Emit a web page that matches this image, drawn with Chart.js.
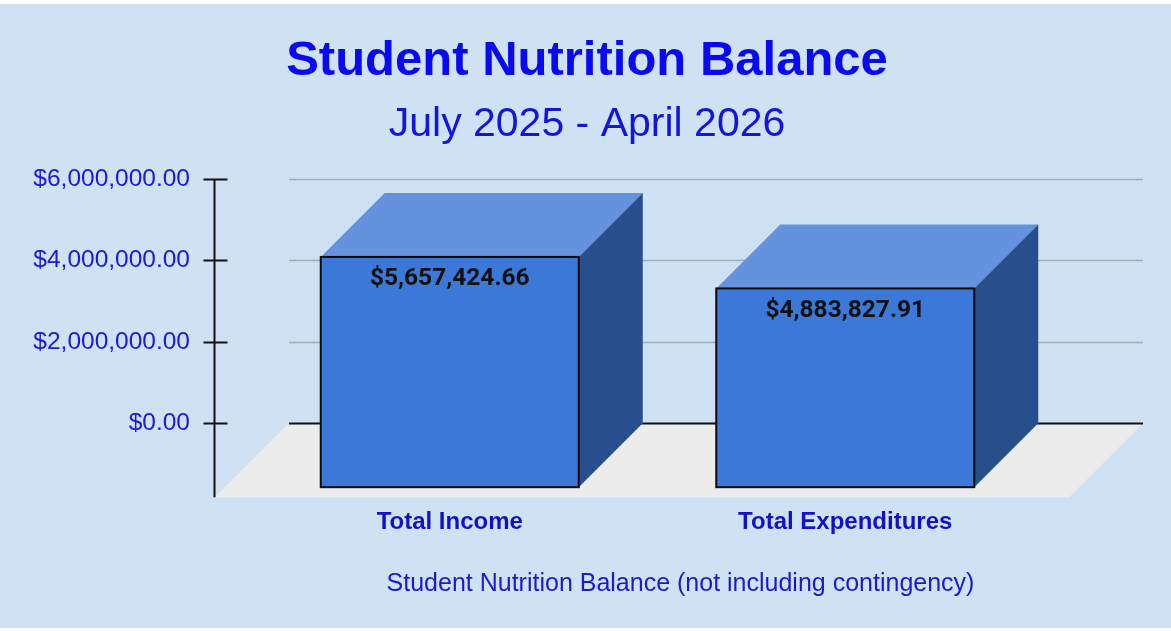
<!DOCTYPE html>
<html>
<head>
<meta charset="utf-8">
<script src="https://cdn.jsdelivr.net/npm/chart.js@4/dist/chart.umd.min.js"></script>
<style>
  html, body { margin: 0; padding: 0; background: #ffffff; }
  #wrap { width: 1171px; height: 631px; }
</style>
</head>
<body>
<div id="wrap"><canvas id="chart" width="1171" height="631"></canvas></div>
<script>
// data
const categories = ['Total Income', 'Total Expenditures'];
const balanceValues = [5657424.66, 4883827.91];
const yTickValues = [0, 2000000, 4000000, 6000000];

const titleText = 'Student Nutrition Balance';
const subtitleText = 'July 2025 - April 2026';
const footerText = 'Student Nutrition Balance (not including contingency)';

// look
const DEPTH = 64;          // 3D offset of front face
const FLOOR_DEPTH = 74;    // floor depth
const BG = '#cfe2f3';

const money = v => '$' + Number(v).toLocaleString('en-US', { minimumFractionDigits: 2, maximumFractionDigits: 2 });

// draws background, floor, gridlines, 3D boxes, axis and footer
const box3d = {
  id: 'box3d',
  beforeDraw(chart) {
    const { ctx } = chart;
    ctx.save();
    ctx.fillStyle = BG;
    ctx.fillRect(0, 4, chart.width, chart.height - 7);
    ctx.restore();
  },
  beforeDatasetsDraw(chart) {
    const { ctx, chartArea } = chart;
    const y = chart.scales.y;
    const y0 = y.getPixelForValue(0);
    const left = chartArea.left - 27;
    const right = chartArea.right + 36;
    ctx.save();
    // floor
    ctx.fillStyle = '#ececec';
    ctx.beginPath();
    ctx.moveTo(left, y0);
    ctx.lineTo(right, y0);
    ctx.lineTo(right - FLOOR_DEPTH, y0 + FLOOR_DEPTH);
    ctx.lineTo(left - FLOOR_DEPTH, y0 + FLOOR_DEPTH);
    ctx.closePath();
    ctx.fill();
    // gridlines on the back wall
    yTickValues.forEach(v => {
      const py = Math.round(y.getPixelForValue(v)) + 0.5;
      ctx.strokeStyle = v === 0 ? '#111111' : '#9eacba';
      ctx.lineWidth = v === 0 ? 2 : 1.5;
      ctx.beginPath();
      ctx.moveTo(left, py);
      ctx.lineTo(right, py);
      ctx.stroke();
    });
    ctx.restore();
  },
  afterDatasetsDraw(chart) {
    const { ctx } = chart;
    const meta = chart.getDatasetMeta(0);
    ctx.save();
    meta.data.forEach((bar, i) => {
      const { x, y, base, width } = bar.getProps(['x', 'y', 'base', 'width'], true);
      const xl = x - width / 2;
      const xr = x + width / 2;
      // top face
      ctx.fillStyle = '#6492df';
      ctx.beginPath();
      ctx.moveTo(xl - DEPTH, y + DEPTH);
      ctx.lineTo(xl, y);
      ctx.lineTo(xr, y);
      ctx.lineTo(xr - DEPTH, y + DEPTH);
      ctx.closePath();
      ctx.fill();
      // side face
      ctx.fillStyle = '#264f8c';
      ctx.beginPath();
      ctx.moveTo(xr - DEPTH, y + DEPTH);
      ctx.lineTo(xr, y);
      ctx.lineTo(xr, base);
      ctx.lineTo(xr - DEPTH, base + DEPTH);
      ctx.closePath();
      ctx.fill();
      // front face
      ctx.fillStyle = '#3c78d8';
      ctx.fillRect(xl - DEPTH, y + DEPTH, width, base - y);
      ctx.strokeStyle = '#0b0b0b';
      ctx.lineWidth = 2;
      ctx.strokeRect(xl - DEPTH, y + DEPTH, width, base - y);
      // value label
      ctx.fillStyle = '#111111';
      ctx.font = 'bold 24.5px Roboto';
      ctx.textAlign = 'center';
      ctx.textBaseline = 'middle';
      ctx.fillText(money(balanceValues[i]), x - DEPTH, y + DEPTH + 22);
    });
    ctx.restore();
  },
  afterDraw(chart) {
    const { ctx, chartArea } = chart;
    const y = chart.scales.y;
    const y0 = y.getPixelForValue(0);
    const ax = chartArea.left - 102 + 0.5;
    ctx.save();
    ctx.strokeStyle = '#111111';
    ctx.lineWidth = 2;
    ctx.beginPath();
    ctx.moveTo(ax, y.getPixelForValue(6000000));
    ctx.lineTo(ax, y0 + FLOOR_DEPTH);
    ctx.stroke();
    yTickValues.forEach(v => {
      const py = Math.round(y.getPixelForValue(v)) + 0.5;
      ctx.beginPath();
      ctx.moveTo(ax - 11, py);
      ctx.lineTo(ax + 13, py);
      ctx.stroke();
    });
    // footer caption
    ctx.fillStyle = '#1a1ad0';
    ctx.font = '25px "Liberation Sans"';
    ctx.textAlign = 'center';
    ctx.textBaseline = 'middle';
    ctx.fillText(footerText, (chartArea.left + chartArea.right) / 2 - 31, 584);
    ctx.restore();
  }
};

new Chart(document.getElementById('chart'), {
  type: 'bar',
  data: {
    labels: categories,
    datasets: [{
      label: 'Balance',
      data: balanceValues,
      backgroundColor: 'rgba(0,0,0,0)',
      borderWidth: 0,
      barThickness: 258
    }]
  },
  options: {
    responsive: false,
    animation: false,
    layout: { padding: { left: 20, right: 17, top: 0, bottom: 9 } },
    plugins: {
      legend: { display: false },
      tooltip: { enabled: false },
      title: {
        display: true,
        text: titleText,
        color: '#0a0af0',
        font: { family: '"Liberation Sans", Arial', size: 49, weight: 'bold', lineHeight: 1.2 },
        padding: { top: 32, bottom: 0 }
      },
      subtitle: {
        display: true,
        text: subtitleText,
        color: '#1414e0',
        font: { family: '"Liberation Sans", Arial', size: 41, weight: 'normal', lineHeight: 1.2 },
        padding: { top: 9, bottom: 30 }
      }
    },
    scales: {
      x: {
        grid: { display: false, drawTicks: false },
        border: { display: false },
        ticks: {
          color: '#1111c8',
          font: { family: '"Liberation Sans", Arial', size: 24, weight: 'bold', lineHeight: 1.2 },
          padding: 85,
          labelOffset: -DEPTH,
          maxRotation: 0
        }
      },
      y: {
        min: 0,
        max: 6000000,
        grid: { display: false, drawTicks: false },
        border: { display: false },
        afterBuildTicks: s => { s.ticks = yTickValues.map(v => ({ value: v })); },
        afterFit: s => { s.width = 296; },
        ticks: {
          color: '#1a1ad8',
          font: { family: '"Liberation Sans", Arial', size: 24.5 },
          padding: 126,
          callback: v => money(v)
        }
      },
      // empty right-hand spacer so the plot sits where the original does
      yRight: {
        position: 'right',
        display: true,
        grid: { display: false, drawTicks: false },
        border: { display: false },
        ticks: { display: false },
        afterFit: s => { s.width = 47; }
      }
    }
  },
  plugins: [box3d]
});
</script>
</body>
</html>
